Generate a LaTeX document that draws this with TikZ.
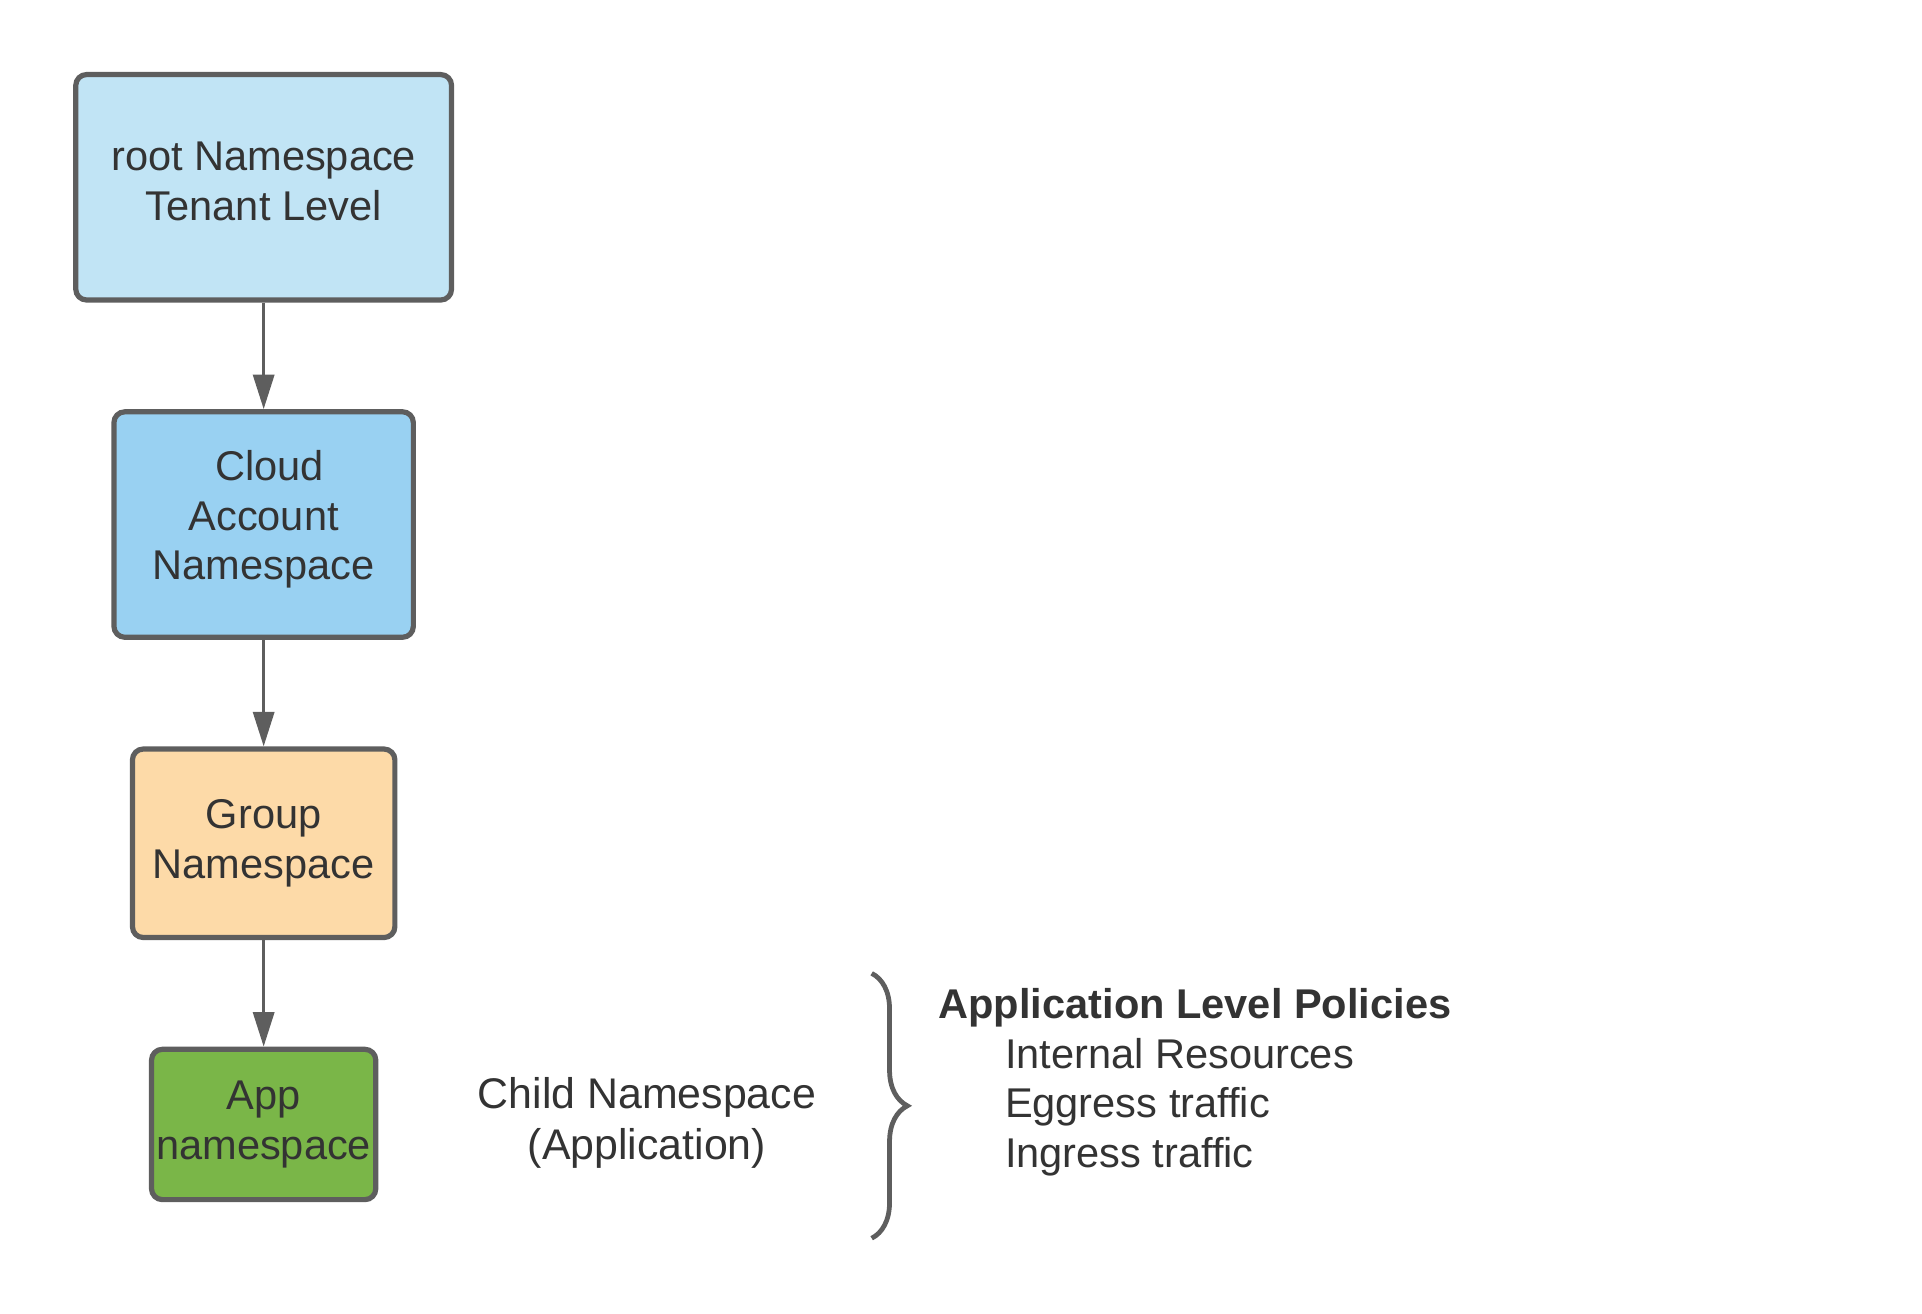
\documentclass[tikz,border=0pt]{standalone}
\usepackage{xcolor}
\usepackage{fontspec}
\setmainfont{Liberation Sans}
\usepackage{tikz}
\usetikzlibrary{arrows.meta,positioning,shapes,decorations.pathreplacing}

\definecolor{nsborder}{HTML}{5E5E5E}
\definecolor{nstext}{HTML}{333333}
\definecolor{rootblue}{HTML}{C1E4F5}
\definecolor{cloudblue}{HTML}{99D1F2}
\definecolor{grouppeach}{HTML}{FDDAA8}
\definecolor{appgreen}{HTML}{7AB648}

\begin{document}
\begin{tikzpicture}
  \tikzstyle{every node}=[text=nstext,font=\fontsize{9.6}{11.4}\selectfont]

  \edef\gapns{0.865cm}
  \tikzstyle{nsbox}=[draw=nsborder,line width=1.2pt,rounded corners=2.5pt,align=center,inner sep=0pt]
  \tikzstyle{nsarrow}=[draw=nsborder,line width=0.8pt,-{Triangle[length=0.28cm,width=0.17cm]}]
  \tikzstyle{plaintext}=[inner sep=0pt]

  \useasboundingbox (0,0) rectangle (15.6,-10.657);

  % namespace hierarchy
  \node [nsbox,fill=rootblue,minimum width=3.05cm,minimum height=1.83cm,text depth=0.1cm] at (2.14,-1.52) (root) {root Namespace\\Tenant Level};
  \node [nsbox,fill=cloudblue,minimum width=2.43cm,minimum height=1.83cm,text depth=0.15cm,below=\gapns of root] (cloud) {~Cloud\\Account\\Namespace};
  \node [nsbox,fill=grouppeach,minimum width=2.13cm,minimum height=1.53cm,below=\gapns of cloud] (group) {Group\\Namespace};
  \node [nsbox,fill=appgreen,minimum width=1.82cm,minimum height=1.22cm,below=\gapns of group] (app) {App\\namespace};

  \draw [nsarrow] (root) -- (cloud);
  \draw [nsarrow] (cloud) -- (group);
  \draw [nsarrow] (group) -- (app);

  \node [plaintext,align=center,font=\fontsize{9.9}{11.8}\selectfont,right=0.8cm of app,yshift=0.01cm] (child) {Child Namespace\\(Application)};

  % policies
  \coordinate (bracetop) at (7.075,-7.90);
  \coordinate (bracebot) at (7.075,-10.05);
  \draw [draw=nsborder,line width=1.1pt,decorate,decoration={brace,amplitude=0.29cm}] (bracetop) -- (bracebot);

  \node [plaintext,anchor=west,font=\fontsize{9.6}{11.4}\selectfont\bfseries] at (7.61,-8.18) (policies) {Application Level Policies};
  \node [plaintext,anchor=west,align=left] at (8.15,-8.985) (rules) {Internal Resources\\Eggress traffic\\Ingress traffic};
\end{tikzpicture}
\end{document}
